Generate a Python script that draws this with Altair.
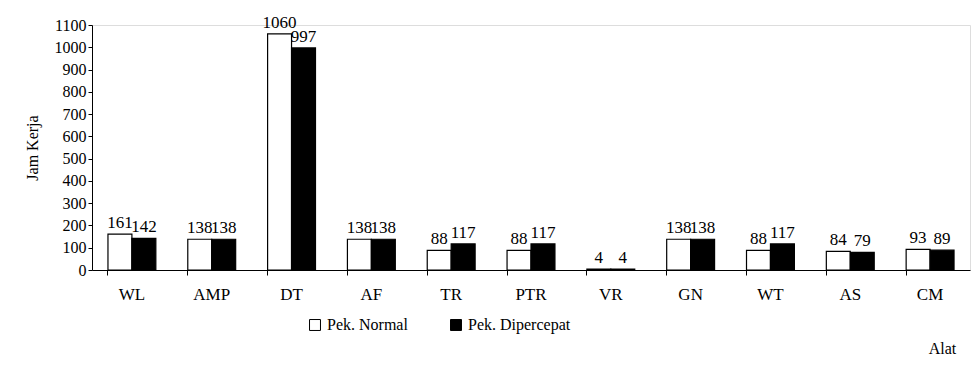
import altair as alt
import pandas as pd

categories = ["WL", "AMP", "DT", "AF", "TR", "PTR", "VR", "GN", "WT", "AS", "CM"]
normal = [161, 138, 1060, 138, 88, 88, 4, 138, 88, 84, 93]
dipercepat = [142, 138, 997, 138, 117, 117, 4, 138, 117, 79, 89]
series = ["Pek. Normal", "Pek. Dipercepat"]
y_ticks = [0, 100, 200, 300, 400, 500, 600, 700, 800, 900, 1000, 1100]

rows = []
for c, n, d in zip(categories, normal, dipercepat):
    rows.append({"Alat": c, "Seri": series[0], "Jam": n})
    rows.append({"Alat": c, "Seri": series[1], "Jam": d})
df = pd.DataFrame(rows)

FONT = "Liberation Serif"

x = alt.X("Alat:N", sort=categories,
          scale=alt.Scale(paddingInner=0.4, paddingOuter=0.2),
          axis=alt.Axis(title="Alat", labelAngle=0, labelFontSize=17, labelPadding=11,
                        bandPosition=0, tickSize=5, domainColor="black", tickColor="black",
                        labelColor="black", titleColor="black", titleFontWeight="normal",
                        titleFontSize=16, titleX=850, titleY=70, titleAlign="center",
                        labelFont=FONT, titleFont=FONT))
xo = alt.XOffset("Seri:N", sort=series)
y = alt.Y("Jam:Q", scale=alt.Scale(domain=[0, 1100], nice=False),
          axis=alt.Axis(title="Jam Kerja", values=y_ticks, grid=False,
                        format="d", labelOverlap=False,
                        labelFontSize=16, tickSize=4, domainColor="black", tickColor="black",
                        labelColor="black", titleColor="black", titleFontWeight="normal",
                        titleFontSize=16, titlePadding=14, labelFont=FONT, titleFont=FONT))

bars = alt.Chart(df).mark_bar(stroke="black", strokeWidth=1.2).encode(
    x=x, xOffset=xo, y=y,
    fill=alt.Fill("Seri:N", sort=series,
                  scale=alt.Scale(domain=series, range=["white", "black"]),
                  legend=alt.Legend(title=None, orient="none", direction="horizontal",
                                    legendX=215, legendY=292, symbolType="square",
                                    symbolStrokeColor="black", symbolStrokeWidth=1,
                                    symbolSize=120, labelFontSize=16, labelFont=FONT,
                                    labelColor="black", columnPadding=40)),
)

labels = alt.Chart(df).mark_text(dy=-11, fontSize=17, font=FONT, color="black").encode(
    x=x, xOffset=xo, y=y, text="Jam:Q"
)

chart = (bars + labels).properties(
    width=878, height=245,
    autosize=alt.AutoSizeParams(type="none"),
    padding={"left": 92, "top": 25, "right": 4, "bottom": 100},
).configure_view(stroke=None).configure(font=FONT, background="white")

chart.save("out.html", embed_options={"renderer": "svg", "actions": False})
